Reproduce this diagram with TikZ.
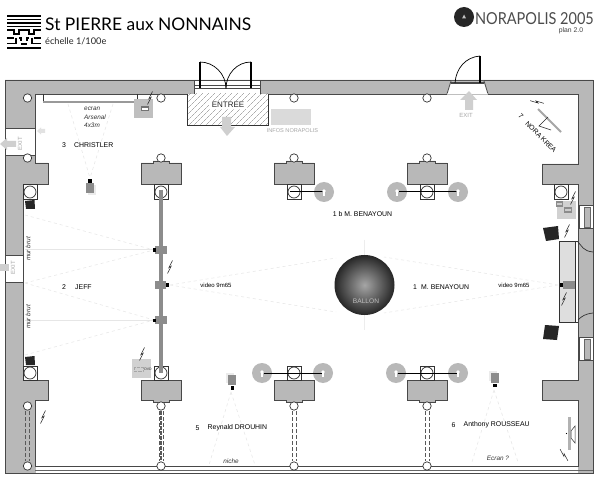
\documentclass[tikz,border=0pt]{standalone}
\usepackage{fontspec}
\setmainfont{Liberation Sans}
\newfontfamily\titlefont{Lato}
\usetikzlibrary{patterns.meta}
\definecolor{wallgray}{HTML}{B8B8B8}
\definecolor{walldark}{HTML}{484848}
\definecolor{exitgray}{HTML}{CFCFCF}
\definecolor{padgray}{HTML}{DADADA}
\definecolor{beamgray}{HTML}{E6E6E6}
\tikzset{
	wall/.style={fill=wallgray, draw=walldark, line width=0.8pt},
	pillar/.style={fill=white, draw=black!80, line width=0.7pt},
	beam/.style={beamgray, dashed, line width=0.5pt},
	blockarrow/.style={fill=exitgray, draw=none},
	lab/.style={font=\fontsize{6.9}{8}\selectfont, text=black, inner sep=0pt},
	note/.style={font=\fontsize{6.4}{7.6}\selectfont\itshape, text=black!80, inner sep=0pt},
	exitlab/.style={font=\fontsize{6}{7}\selectfont, text=black!35, inner sep=0pt},
	doubledash/.style={black!65, line width=0.7pt, dash pattern=on 4pt off 2pt}
}
\newcommand{\bolt}[3]{\draw[black!85, line width=0.5pt, shift={(#1,#2)}, rotate=#3] (2.5,-6.5)--(-1.2,0.8)--(1.2,-0.8)--(-2.5,6.5);}
\begin{document}
\begin{tikzpicture}[x=1pt, y=-1pt]
	\useasboundingbox (0,0) rectangle (600,481);
	\fill[white] (0,0) rectangle (600,481);

	%logo
	\foreach \y in {16, 19.5, 23, 26.5, 48}{
		\draw[black, line width=1.9pt] (7, \y)--(41, \y);
	}
	\draw[black, line width=1.5pt] (7,30)--(14,30)--(14,34)--(19,34)--(19,30)--(29,30)--(29,34)--(34,34)--(34,30)--(41,30);
	\draw[black, line width=1.5pt] (7,38)--(14,38) (19,38)--(21,38)--(21,41) (27,41)--(27,38)--(29,38) (34,38)--(41,38);
	\draw[black, line width=1.5pt] (7,43.5)--(16,43.5)--(16,38) (32,38)--(32,43.5)--(41,43.5) (21,44)--(27,44);
	\node (title) at (45, 24) [anchor=west, inner sep=0pt, font=\titlefont\fontsize{17.4}{20}\selectfont]{St PIERRE aux NONNAINS};
	\node (scale) at (45, 41.5) [anchor=west, inner sep=0pt, font=\titlefont\fontsize{9.2}{10}\selectfont, text=black!85]{échelle 1/100e};
	\fill[black!85] (464, 17) circle[radius=10];
	\fill[black!25] (464, 14.5)--(466, 18.5)--(462, 18.5)--cycle;
	\node (nora) at (594, 19) [anchor=east, inner sep=0pt, xscale=0.88, font=\titlefont\fontsize{16.5}{18}\selectfont, text=black!70]{NORAPOLIS 2005};
	\node (plan) at (571, 30.5) [inner sep=0pt, font=\fontsize{6.8}{8}\selectfont, text=black!75]{plan 2.0};

	%walls
	\draw[wall, even odd rule] (5,80)--(593,80)--(593,473)--(5,473)--cycle
		(35,94)--(578,94)--(578,164)--(542,164)--(542,184)--(578,184)--(578,380)--(542,380)--(542,400)--(578,400)--(578,466)--(35,466)--(35,400)--(48,400)--(48,380)--(23,380)--(23,184)--(48,184)--(48,163)--(35,163)--cycle;
	\fill[white] (35.5,466.5) rectangle (577.5,472.5);
	\draw[black!60, line width=0.6pt] (35,470)--(593,470);

	%exits
	\draw[fill=white, draw=walldark, line width=0.8pt] (5,128) rectangle (35,155);
	\draw[fill=white, draw=walldark, line width=0.8pt] (5,255) rectangle (23,282);
	\draw[fill=white, draw=walldark, line width=0.8pt] (447,94)--(451,81)--(484,81)--(488,94)--cycle;
	\fill[white] (447.6,93.2)--(487.4,93.2)--(488,94.6)--(447,94.6)--cycle;
	\draw[walldark, line width=1.3pt] (451,83)--(484,83);
	\draw[black, line width=1.3pt] (480,56)--(480,83);
	\draw[black, line width=0.7pt] (480,56) .. controls (466,57) and (456,68) .. (455,83);
	\node (exittext) at (20, 144) [exitlab, rotate=90]{EXIT};
	\node (exitmid) at (13, 268) [exitlab, rotate=90]{EXIT};
	\node (exittop) at (466, 115.5) [exitlab]{EXIT};
	\fill[blockarrow] (16,141)--(7,141)--(7,138)--(0,144)--(7,150)--(7,147)--(16,147)--cycle;
	\fill[blockarrow] (0,264)--(9,264)--(9,271)--(0,271)--cycle;
	\fill[exitgray!60] (45,129)--(41,129)--(41,127.5)--(37,131)--(41,134.5)--(41,133)--(45,133)--cycle;
	\fill[blockarrow] (465,110)--(465,100)--(460,100)--(469,91)--(477,100)--(473,100)--(473,110)--cycle;

	%entry
	\draw[fill=white, draw=walldark, line width=0.8pt] (194,80) rectangle (260,94);
	\draw[walldark, line width=0.7pt] (194,85)--(260,85) (194,88.5)--(260,88.5);
	\draw[black, line width=1.3pt] (200,62)--(200,88.5) (251,62)--(251,88.5);
	\draw[black, line width=0.7pt] (200,62) .. controls (214,62) and (226,74) .. (226,88.5);
	\draw[black, line width=0.7pt] (251,62) .. controls (237,62) and (226,74) .. (226,88.5);
	\draw[fill=white, draw=none] (187,94) rectangle (268,125);
	\fill[pattern={Lines[angle=45, distance=4pt, line width=0.4pt]}, pattern color=black!50] (187,94) rectangle (268,125);
	\draw[black!80, line width=0.6pt] (187,94)--(187,125)--(268,125)--(268,94);
	\node (entree) at (228, 105) [fill=white, inner xsep=2.5pt, inner ysep=1.5pt, font=\fontsize{8}{9}\selectfont, text=black!85]{ENTREE};
	\fill[blockarrow] (222,117)--(222,127)--(220,127)--(227,136)--(235,127)--(231,127)--(231,117)--cycle;
	\fill[padgray] (271,109) rectangle (311,125);
	\node (infos) at (292.5, 131) [exitlab, font=\fontsize{5.6}{7}\selectfont]{INFOS NORAPOLIS};

	%tables
	\foreach \x in {161, 294, 427}{
		\draw[wall, line width=0.7pt] (\x-20,184)--(\x-20,163)--(\x-8,163)--(\x-8,161)--(\x+8,161)--(\x+8,163)--(\x+20,163)--(\x+20,184)--cycle;
		\draw[wall, line width=0.7pt] (\x-20,380)--(\x-20,400)--(\x-8,400)--(\x-8,402)--(\x+8,402)--(\x+8,400)--(\x+20,400)--(\x+20,380)--cycle;
		\draw[fill=white, draw=black!80, line width=0.5pt] (\x-7,184.5) rectangle (\x+7,199);
		\draw[fill=white, draw=black!80, line width=0.5pt] (\x-7,366) rectangle (\x+7,380);
		\draw[pillar] (\x, 192) circle[radius=6];
		\draw[pillar] (\x, 373) circle[radius=6];
	}
	\draw[fill=white, draw=black!80, line width=0.5pt] (23,184.5) rectangle (37,199);
	\draw[fill=white, draw=black!80, line width=0.5pt] (23,366) rectangle (37,380);
	\draw[fill=white, draw=black!80, line width=0.5pt] (554,184.5) rectangle (568,199);
	\draw[pillar] (30, 192) circle[radius=6];
	\draw[pillar] (30, 373) circle[radius=6];
	\draw[pillar] (561, 192) circle[radius=6];

	%pillars
	\foreach \x in {27.5, 161, 294, 427}{
		\draw[pillar] (\x, 98) circle[radius=4.2];
		\draw[pillar] (\x, 158) circle[radius=4.2];
		\draw[doubledash] (\x-2,411)--(\x-2,461) (\x+2,411)--(\x+2,461);
		\draw[pillar] (\x, 406) circle[radius=4.2];
		\draw[pillar] (\x, 466) circle[radius=4.2];
	}
	\draw[black!65, line width=1.4pt, dash pattern=on 4pt off 1pt] (161,411)--(161,461);

	%keyholes
	\foreach \x/\y in {324/192, 397/192, 458/192, 262/373, 323/373, 396/373, 458/373}{
		\fill[wallgray] (\x, \y) circle[radius=10];
	}
	\draw[black, line width=1pt] (290,192)--(324,192) (399,192)--(458,192);
	\draw[black, line width=1pt] (264,373)--(323,373) (398,373)--(458,373);
	\foreach \x/\y in {324/192, 397/192, 458/192, 262/373, 323/373, 396/373, 458/373}{
		\fill[white] (\x, \y-1) circle[radius=1.8];
		\fill[white] (\x-1, \y-1) rectangle (\x+1, \y+4);
	}

	%beams
	\draw[beam] (25,215)--(154,250) (25,283)--(154,250) (25,283)--(154,320) (25,355)--(154,320);
	\draw[beamgray, line width=0.5pt] (25,249.5)--(154,249.5) (25,320)--(154,320);
	\draw[beam] (170,285)--(336,258) (170,285)--(336,312) (558,285)--(384,257) (558,285)--(384,313);
	\draw[beamgray!70, line width=0.4pt] (364,240)--(364,255) (364,315)--(364,330);
	\draw[beam] (68,104)--(90,178) (113,104)--(90,178);
	\draw[beam] (231,392)--(209,465) (231,392)--(255,465);
	\draw[beam] (494,390)--(472,462) (494,390)--(518,462);

	%video bar
	\draw[black!45, line width=4.2pt] (161,190)--(161,373);
	\fill[black!45] (155,246) rectangle (167,254);
	\fill[black!45] (155,281) rectangle (166,289);
	\fill[black!45] (155,316) rectangle (167,324);
	\fill[black] (152.5,248.5) rectangle (155.5,252);
	\fill[black] (165.5,283.5) rectangle (169,287);
	\fill[black] (152.5,318.5) rectangle (155.5,322);

	%ballon
	\shade[inner color=black!35, outer color=black!85] (364.5, 285) circle[radius=30];
	\node (ballon) at (366, 301.5) [inner sep=0pt, font=\fontsize{6.6}{8}\selectfont, text=black!25]{BALLON};

	%screen top left
	\draw[black!80, line width=0.7pt] (43,94)--(43,102) (137,94)--(137,102);
	\draw[black!40, line width=1.3pt] (43,102)--(137,102);
	\fill[black!25] (134,99) rectangle (153,118);
	\fill[black!55] (141,106.5) rectangle (149,111.5);
	\fill[white] (142,108) rectangle (148,110);

	%projectors
	\fill[black!8] (88,185) rectangle (96,195);
	\fill[black!45] (86,183) rectangle (94,193);
	\fill[black] (88,179) rectangle (92,183);
	\fill[black!8] (226,373) rectangle (234,383);
	\fill[black!45] (228,375) rectangle (236,385);
	\fill[black] (230.5,386) rectangle (233.5,390);
	\fill[black!8] (489,371) rectangle (497,381);
	\fill[black!45] (491,373) rectangle (499,383);
	\fill[black] (493,384) rectangle (497,387);

	%speakers
	\fill[black!85] (25,201)--(34.5,200)--(35,209)--(26,209)--cycle;
	\fill[black!85] (25,357)--(34.5,356)--(35,365)--(26,365)--cycle;
	\fill[black!85] (543,228)--(558,226)--(559,239)--(546,241)--cycle;
	\fill[black!85] (545,325)--(559,326)--(557,340)--(543,339)--cycle;

	%dvd
	\fill[black!18] (132,359) rectangle (151,378);
	\draw[black!35, densely dotted, line width=0.3pt] (134,367)--(143,367)--(143,371)--(134,371)--cycle;
	\node (dvd) at (148, 369.5) [inner sep=0pt, font=\fontsize{3.5}{4}\selectfont, text=black!80]{DVD};

	%right side
	\fill[black!18] (557,201) rectangle (576,219);
	\fill[black!45] (555.5,201) rectangle (563,207);
	\fill[black!20] (556.5,203) rectangle (562,205);
	\fill[black!45] (564,207) rectangle (572,213);
	\fill[black!20] (565,209) rectangle (571,211);
	\draw[fill=white, draw=walldark, line width=0.7pt] (579,205) rectangle (593,228);
	\draw[fill=wallgray, draw=black!60, line width=0.5pt] (584,207) rectangle (590,227);
	\draw[fill=white, draw=walldark, line width=0.7pt] (579,337) rectangle (593,360);
	\draw[fill=wallgray, draw=black!60, line width=0.5pt] (584,339) rectangle (590,359);
	\draw[fill=black!13, draw=none] (559,241) rectangle (575,322);
	\draw[black!80, line width=0.6pt] (578,241)--(559,241)--(559,322)--(578,322);
	\draw[black!80, line width=0.5pt] (575,241)--(575,322);
	\draw[black!80, line width=0.7pt] (578,242) .. controls (582,246) and (583,251) .. (593,252);
	\draw[black!80, line width=0.7pt] (578,320) .. controls (582,316) and (585,314) .. (593,313);
	\fill[black!45] (563,281) rectangle (575,289);
	\fill[black] (560,283) rectangle (563,287);
	\fill[black!30] (568,417) rectangle (571,450);
	\fill[black] (566.5,433.5) circle[radius=0.7];
	\draw[black!80, line width=0.5pt, fill=white] (571,431)--(575,426)--(575,443)--(571,438)--cycle;
	\draw[black!35, line width=1.8pt] (538,109)--(561,132);
	\draw[black!85, line width=0.6pt] (548,117)--(539,126)--(551,130);

	%bolts
	\foreach \x/\y/\r in {150/98/0, 170/267/0, 43/417/0, 142/354/0, 573/198/0, 567/231/0, 564/299/0, 564/455/55, 537/102/100}{
		\bolt{\x}{\y}{\r}
	}

	%labels
	\node (ecran) at (84, 109) [note, anchor=west]{ecran};
	\node (arsenal) at (84, 117) [note, anchor=west]{Arsenal};
	\node (size) at (84, 125) [note, anchor=west]{4x3m};
	\node (numc) at (64, 145) [lab]{3};
	\node (christler) at (74, 145) [lab, anchor=west]{CHRISTLER};
	\node (murup) at (28, 249) [note, rotate=90]{mur brut};
	\node (murlow) at (28, 317) [note, rotate=90]{mur brut};
	\node (numj) at (64, 287) [lab]{2};
	\node (jeff) at (75, 287) [lab, anchor=west]{JEFF};
	\node (videoa) at (216, 285) [lab, font=\fontsize{6}{7}\selectfont]{video 9m65};
	\node (videob) at (514, 285) [lab, font=\fontsize{6}{7}\selectfont]{video 9m65};
	\node (oneb) at (362.5, 214) [lab]{1 b M. BENAYOUN};
	\node (numo) at (415, 287) [lab]{1};
	\node (benayoun) at (421, 287) [lab, anchor=west]{M. BENAYOUN};
	\node (numr) at (197.5, 428) [lab]{5};
	\node (drouhin) at (207.5, 428) [lab, anchor=west]{Reynald DROUHIN};
	\node (numa) at (453.5, 425) [lab]{6};
	\node (rousseau) at (463.5, 425) [lab, anchor=west]{Anthony ROUSSEAU};
	\node (niche) at (231, 461) [note]{niche};
	\node (ecranq) at (498, 458) [note]{Ecran ?};
	\node (numn) at (521, 116) [lab, rotate=-45]{7};
	\node (krea) at (541, 137) [lab, rotate=-45]{NORA KREA};
\end{tikzpicture}
\end{document}
